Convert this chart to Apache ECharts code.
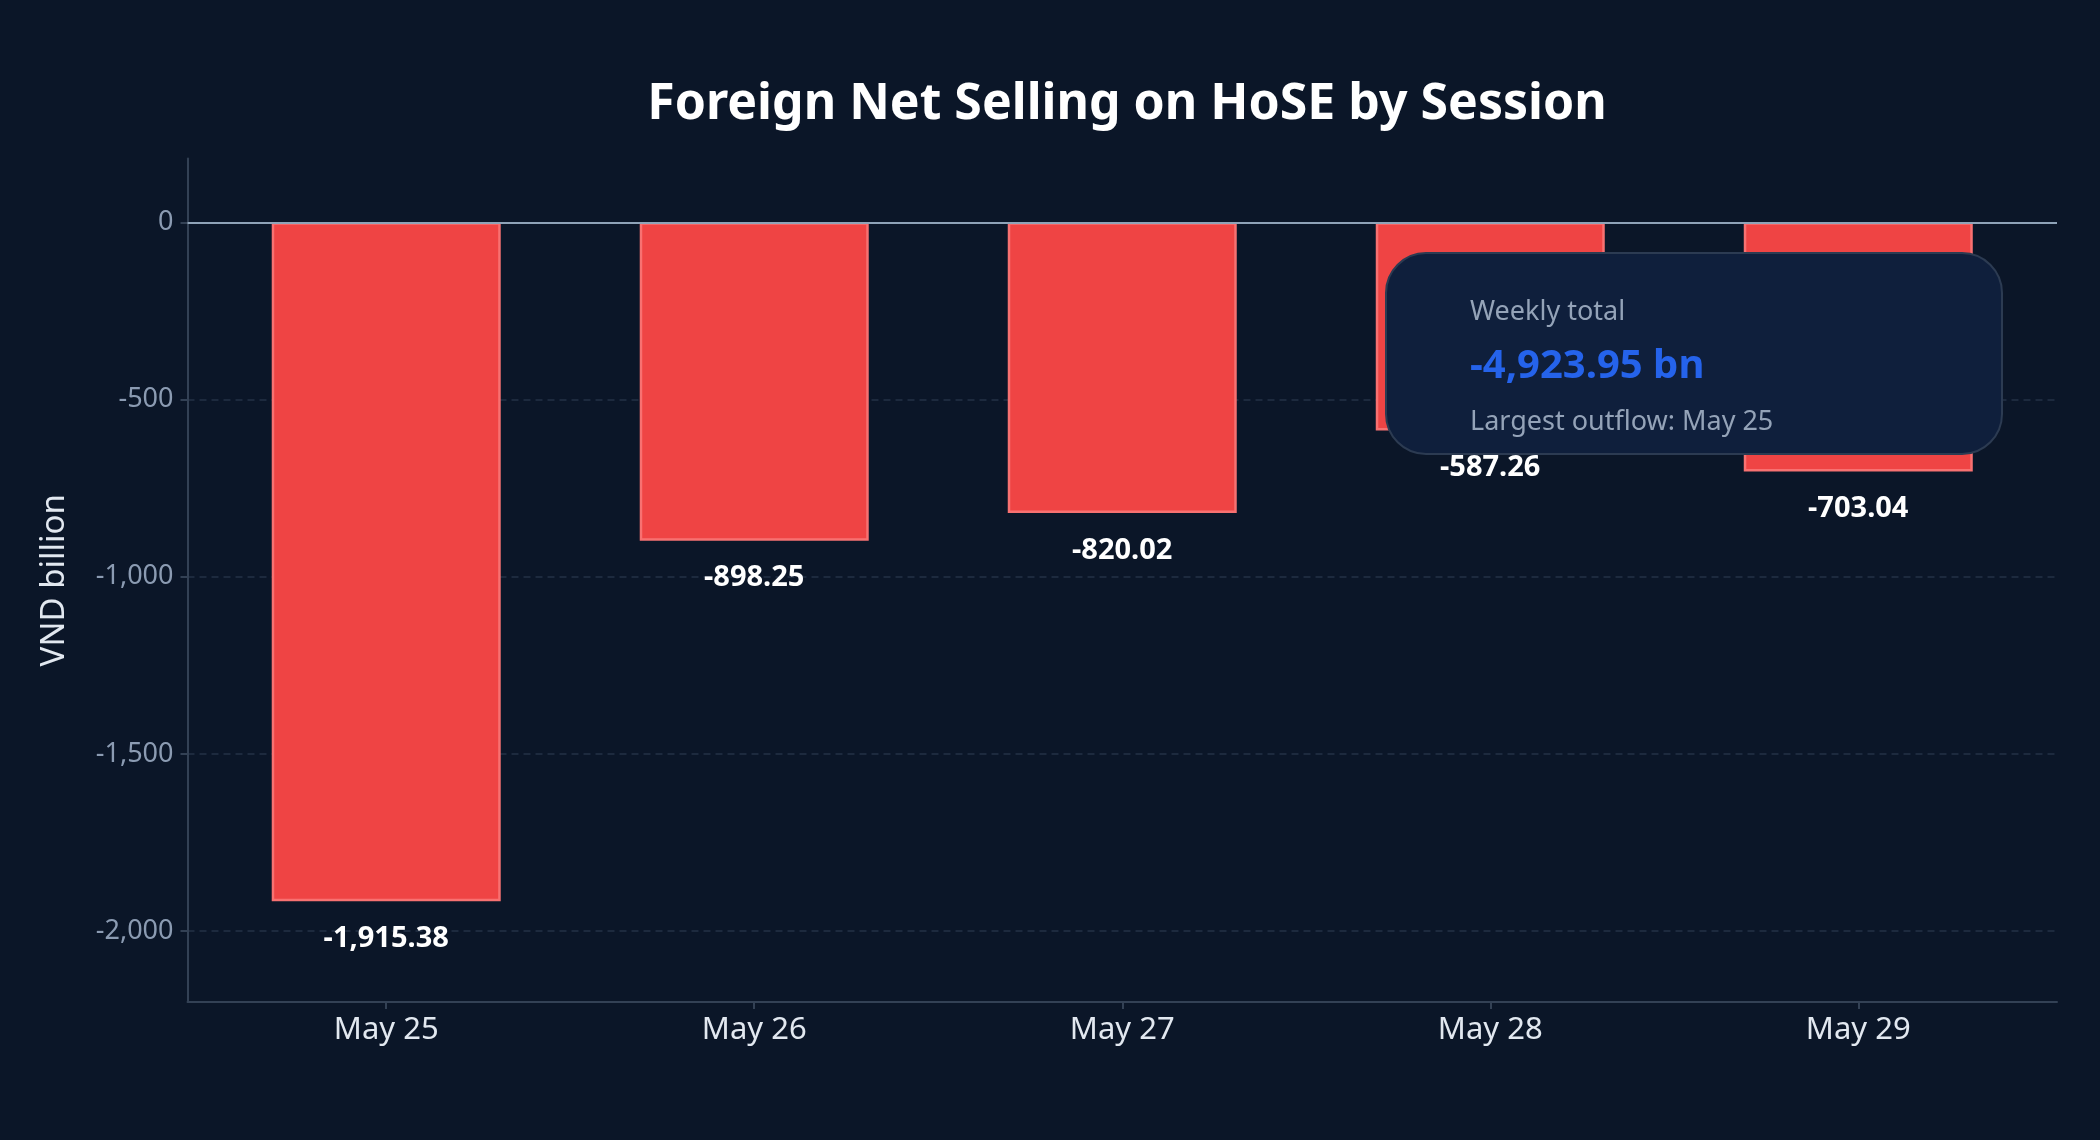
<!DOCTYPE html>
<html>
<head>
<meta charset="utf-8">
<title>Foreign Net Selling on HoSE by Session</title>
<script src="https://cdn.jsdelivr.net/npm/echarts@6/dist/echarts.min.js"></script>
<style>
  html, body { margin: 0; padding: 0; background: #0b1628; }
  #chart { width: 2100px; height: 1140px; }
</style>
</head>
<body>
<div id="chart"></div>
<script>
const sessions = ['May 25', 'May 26', 'May 27', 'May 28', 'May 29'];
const netSelling = [-1915.38, -898.25, -820.02, -587.26, -703.04];
const yTicks = [0, -500, -1000, -1500, -2000];

const fmt = (v) => v.toLocaleString('en-US', { minimumFractionDigits: 2, maximumFractionDigits: 2 });

const total = netSelling.reduce((a, b) => a + b, 0);
const worstIdx = netSelling.indexOf(Math.min(...netSelling));

const chart = echarts.init(document.getElementById('chart'));
const font = 'Noto Sans';

const option = {
  backgroundColor: '#0b1628',
  animation: false,
  textStyle: { fontFamily: font },
  title: {
    text: 'Foreign Net Selling on HoSE by Session',
    left: 1122,
    textAlign: 'center',
    top: 75,
    textStyle: { color: '#ffffff', fontSize: 50, fontWeight: 'bold', fontFamily: font }
  },
  grid: { left: 187.5, right: 43, top: 158.5, bottom: 138, containLabel: false },
  xAxis: {
    type: 'value',
    min: -0.54,
    max: sessions.length - 1 + 0.54,
    axisLine: { show: true, onZero: false, lineStyle: { color: '#334155', width: 2 } },
    axisTick: { show: true, customValues: sessions.map((s, i) => i), length: 7, lineStyle: { color: '#334155', width: 2 } },
    axisLabel: {
      customValues: sessions.map((s, i) => i),
      formatter: (v) => sessions[Math.round(v)],
      color: '#e2e8f0', fontSize: 31, margin: 13, fontFamily: font
    },
    splitLine: { show: false }
  },
  yAxis: {
    type: 'value',
    min: -2200,
    max: 180,
    name: 'VND billion',
    nameLocation: 'middle',
    nameGap: 116,
    nameTextStyle: { color: '#e2e8f0', fontSize: 33, fontFamily: font },
    axisLine: { show: true, onZero: false, lineStyle: { color: '#334155', width: 2 } },
    axisTick: { show: true, customValues: yTicks, length: 7, lineStyle: { color: '#334155', width: 2 } },
    axisLabel: {
      customValues: yTicks,
      formatter: (v) => v.toLocaleString('en-US'),
      color: '#8b9bb2', fontSize: 27, margin: 14, padding: [5, 0, 0, 0], fontFamily: font
    },
    splitLine: { show: true, lineStyle: { color: '#243246', type: [7, 5], width: 1.5 } }
  },
  series: [{
    type: 'bar',
    data: netSelling.map((v, i) => [i, v]),
    barWidth: 229,
    itemStyle: { color: '#ef4444', borderColor: '#f87171', borderWidth: 2.5 },
    label: {
      show: true,
      position: 'bottom',
      distance: 23,
      formatter: (p) => fmt(p.value[1]),
      color: '#ffffff', fontSize: 29, fontWeight: 'bold', fontFamily: font
    },
    markLine: {
      silent: true,
      symbol: 'none',
      label: { show: false },
      lineStyle: { color: '#8fa3b8', type: 'solid', width: 2 },
      data: [{ yAxis: 0 }]
    }
  }],
  graphic: [{
    type: 'group',
    left: 1385,
    top: 252,
    z: 100,
    children: [
      {
        type: 'rect', z: 100,
        shape: { x: 0, y: 0, width: 616, height: 201, r: 40 },
        style: { fill: '#0f1f3c', stroke: '#2c3b52', lineWidth: 2 }
      },
      {
        type: 'text', x: 84, y: 59, z: 101,
        style: { text: 'Weekly total', fill: '#94a3b8', fontSize: 27, fontFamily: font, verticalAlign: 'middle' }
      },
      {
        type: 'text', x: 84, y: 114, z: 101,
        style: { text: fmt(total) + ' bn', fill: '#2563eb', fontSize: 40, fontWeight: 'bold', fontFamily: font, verticalAlign: 'middle' }
      },
      {
        type: 'text', x: 84, y: 169, z: 101,
        style: { text: 'Largest outflow: ' + sessions[worstIdx], fill: '#94a3b8', fontSize: 27, fontFamily: font, verticalAlign: 'middle' }
      }
    ]
  }]
};

chart.setOption(option);
</script>
</body>
</html>
